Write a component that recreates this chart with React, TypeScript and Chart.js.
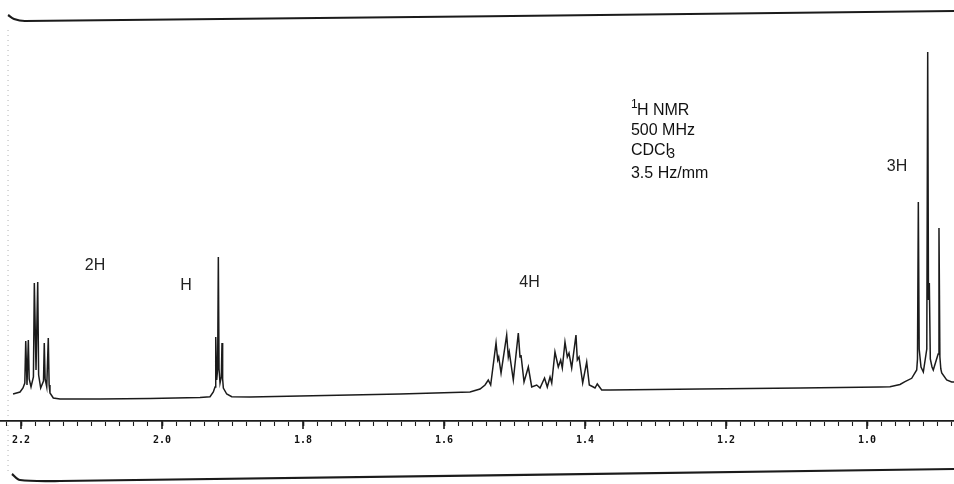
import React, { useEffect, useRef } from "react";
import { Chart, registerables } from "chart.js";

Chart.register(...registerables);

// ---- axis range (chemical shift, ppm; drawn high -> low, left -> right)
const PPM_LEFT = 2.2298;
const PPM_RIGHT = 0.8766;

// ---- tick labels
const majorTicks = [2.2, 2.0, 1.8, 1.6, 1.4, 1.2, 1.0];
const majorTickLabels = ["2.2", "2.0", "1.8", "1.6", "1.4", "1.2", "1.0"];
const minorTicks: number[] = [];
for (let i = 44; i <= 111; i++) minorTicks.push(Math.round(i * 2) / 100);

// ---- traced spectrum: chemical shift (ppm) and recorded intensity (arb. units)
const shiftPpm = [
  // 2H multiplet
  2.2113, 2.2014, 2.1972, 2.1946, 2.1933, 2.1915, 2.1896, 2.1884, 2.1858, 2.1824,
  2.1811, 2.1787, 2.1763, 2.175, 2.1721, 2.1681, 2.167, 2.1658, 2.1635, 2.1613,
  2.1601, 2.1589, 2.1542, 2.1447, 2.0879, 2.017, 1.9461,
  // H multiplet
  1.9319, 1.9272, 1.9248, 1.9238, 1.9224, 1.9211, 1.9201, 1.9191, 1.9177, 1.9159,
  1.9149, 1.914, 1.913, 1.9082, 1.9011, 1.8752, 1.8043, 1.6624,
  // 4H multiplet
  1.5631, 1.5489, 1.5418, 1.5372, 1.5338, 1.5262, 1.5238, 1.5224, 1.5191, 1.5111,
  1.5088, 1.5074, 1.5017, 1.4946, 1.4922, 1.4908, 1.4865, 1.4804, 1.4756, 1.4685,
  1.4638, 1.4574, 1.4535, 1.4496, 1.4472, 1.4426, 1.4379, 1.4345, 1.4322, 1.4284,
  1.4251, 1.4227, 1.4189, 1.4128, 1.4109, 1.4085, 1.4033, 1.3976, 1.3939, 1.3882,
  1.3858, 1.3826, 1.3763, 1.3645, 1.2369, 1.095, 0.9816,
  // 3H triplet
  0.9674, 0.9532, 0.9461, 0.9366, 0.9295, 0.9284, 0.9272, 0.926, 0.9234, 0.9201,
  0.9152, 0.9139, 0.9128, 0.9116, 0.9102, 0.9078, 0.906, 0.8991, 0.8979, 0.8966,
  0.8953, 0.894, 0.887, 0.8799, 0.8766,
];
const intensity = [
  // 2H multiplet
  25, 27, 31, 36, 78, 34, 79, 40, 32, 42,
  136, 49, 137, 44, 31, 38, 76, 40, 32, 81,
  34, 26, 21, 20, 20, 20.5, 21.5,
  // H multiplet
  22.3, 27, 32, 82, 39, 50, 162, 50, 36, 42,
  76, 40, 31, 25, 22.3, 22, 23, 25,
  // 4H multiplet
  27, 30, 34, 39, 34, 76, 59, 62, 46, 84,
  62, 67, 39, 86, 62, 64, 37, 52, 32, 34,
  31, 41, 32, 42, 36, 67, 52, 59, 51, 77,
  62, 66, 51, 84, 59, 62, 36, 57, 34, 32,
  31, 35, 29, 29, 30, 31, 32,
  // 3H triplet
  32.3, 34.5, 37.3, 40.7, 49, 60, 217, 70, 52, 47,
  70, 367, 119, 136, 60, 52, 49, 65, 191, 62,
  50, 46, 39, 37, 37,
];

// ---- chart paper edges (scanned frame)
const topEdgePpm = [2.2184, 2.2099, 2.1943, 0.8766];
const topEdgeLevel = [404, 400, 398, 408];
const bottomEdgePpm = [2.2128, 2.2014, 2.1447, 0.8766];
const bottomEdgeLevel = [-55, -61, -62, -50];
const leftEdgePpm = [2.2184, 2.2184];
const leftEdgeLevel = [389, -56];

// ---- integration annotations
const peakLabels = ["2H", "H", "4H", "3H"];
const peakLabelPpm = [2.095, 1.966, 1.4787, 0.9574];
const peakLabelLevel = [153.5, 133, 136.5, 252];

// ---- experiment info block
const infoPpm = 1.3348;
const infoLevels = [308, 288, 268, 245];

const FONT = '"Liberation Sans", Arial, sans-serif';
const INK = "#1b1b1b";

const pts = (xs: number[], ys: number[]) => xs.map((x, i) => ({ x, y: ys[i] }));

const isMajor = (v: number) => majorTicks.some((m) => Math.abs(m - v) < 1e-6);

export default function App() {
  const ref = useRef<HTMLCanvasElement | null>(null);

  useEffect(() => {
    if (!ref.current) return;

    const annot = {
      id: "nmrAnnotations",
      afterDatasetsDraw(chart: any) {
        const { ctx, scales } = chart;
        const xs = scales.x;
        const ys = scales.y;
        ctx.save();
        // longer major ticks
        ctx.strokeStyle = INK;
        ctx.lineWidth = 1.6;
        const bottom = chart.chartArea.bottom;
        majorTicks.forEach((m) => {
          const px = xs.getPixelForValue(m);
          ctx.beginPath();
          ctx.moveTo(px, bottom);
          ctx.lineTo(px, bottom + 8);
          ctx.stroke();
        });
        // peak integration labels
        ctx.fillStyle = "#222";
        ctx.font = `16px ${FONT}`;
        ctx.textAlign = "center";
        ctx.textBaseline = "middle";
        peakLabels.forEach((t, i) => {
          ctx.fillText(t, xs.getPixelForValue(peakLabelPpm[i]), ys.getPixelForValue(peakLabelLevel[i]));
        });
        // info block
        ctx.textAlign = "left";
        ctx.fillStyle = "#111";
        const lx = xs.getPixelForValue(infoPpm);
        const y0 = ys.getPixelForValue(infoLevels[0]);
        ctx.font = `12px ${FONT}`;
        ctx.fillText("1", lx, y0 - 6);
        ctx.font = `16px ${FONT}`;
        ctx.fillText("H NMR", lx + 6, y0);
        ctx.fillText("500 MHz", lx, ys.getPixelForValue(infoLevels[1]));
        const y2 = ys.getPixelForValue(infoLevels[2]);
        ctx.fillText("CDCl", lx, y2);
        const w = ctx.measureText("CDCl").width;
        ctx.font = `14px ${FONT}`;
        ctx.fillText("3", lx + w - 2, y2 + 3);
        ctx.font = `16px ${FONT}`;
        ctx.fillText("3.5 Hz/mm", lx, ys.getPixelForValue(infoLevels[3]));
        ctx.restore();
      },
    };

    const chart = new Chart(ref.current, {
      type: "line",
      data: {
        datasets: [
          {
            label: "spectrum",
            data: pts(shiftPpm, intensity),
            borderColor: INK,
            borderWidth: 1.5,
            pointRadius: 0,
            tension: 0,
            fill: false,
          },
          {
            label: "top edge",
            data: pts(topEdgePpm, topEdgeLevel),
            borderColor: INK,
            borderWidth: 2.2,
            pointRadius: 0,
            tension: 0.3,
            fill: false,
            clip: false,
          } as any,
          {
            label: "bottom edge",
            data: pts(bottomEdgePpm, bottomEdgeLevel),
            borderColor: INK,
            borderWidth: 2.2,
            pointRadius: 0,
            tension: 0.3,
            fill: false,
            clip: false,
          } as any,
          {
            label: "left edge",
            data: pts(leftEdgePpm, leftEdgeLevel),
            borderColor: "rgba(0,0,0,0.3)",
            borderWidth: 1,
            borderDash: [1, 4],
            pointRadius: 0,
            fill: false,
            clip: false,
          } as any,
        ],
      },
      options: {
        responsive: false,
        animation: false,
        layout: { padding: { top: 8, left: 0, right: 0, bottom: 0 } },
        plugins: {
          legend: { display: false },
          tooltip: { enabled: false },
          title: { display: false },
        },
        scales: {
          x: {
            type: "linear",
            reverse: true,
            min: PPM_RIGHT,
            max: PPM_LEFT,
            afterBuildTicks: (scale: any) => {
              scale.ticks = minorTicks.map((v) => ({ value: v }));
            },
            afterFit: (scale: any) => {
              scale.height = 63;
            },
            ticks: {
              autoSkip: false,
              maxRotation: 0,
              minRotation: 0,
              padding: 8,
              color: "#111",
              font: { family: '"DejaVu Sans Mono", monospace', size: 10, weight: "bold" },
              callback: (value: any) => {
                const idx = majorTicks.findIndex((m) => Math.abs(m - Number(value)) < 1e-6);
                return idx >= 0 ? majorTickLabels[idx] : "";
              },
            },
            grid: {
              drawOnChartArea: false,
              drawTicks: true,
              tickLength: 5,
              tickColor: INK,
              tickWidth: (ctx: any) => (ctx.tick && isMajor(ctx.tick.value) ? 1.6 : 1.1),
            },
            border: { display: true, color: INK, width: 1.8 },
          },
          y: {
            type: "linear",
            display: false,
            min: -2,
            max: 411,
          },
        },
      },
      plugins: [annot],
    } as any);

    return () => chart.destroy();
  }, []);

  return (
    <div style={{ position: "absolute", left: 0, top: 0, width: 954, height: 484, background: "#fff" }}>
      <canvas ref={ref} width={954} height={484} style={{ display: "block" }} />
    </div>
  );
}
